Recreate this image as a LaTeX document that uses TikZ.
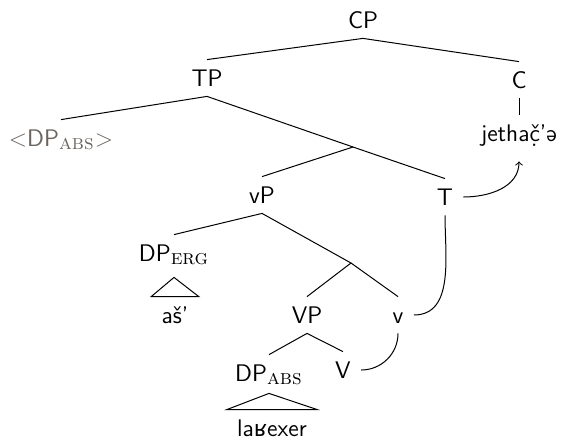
\documentclass[tikz,border=0pt]{standalone}
\usepackage{fontspec}
\newfontfamily\ipafont{DejaVu Sans}
\usepackage{xcolor}
\usepackage{tikz}
\usetikzlibrary{arrows, positioning}
\definecolor{tracegray}{RGB}{105,100,95}
\newcommand\catsub[1]{\textsubscript{\rmfamily\fontsize{10.5}{12}\selectfont\scshape #1}}

\begin{document}
\begin{tikzpicture}[
    x=0.5pt, y=0.5pt,
    cat/.style={font=\fontsize{12}{14}\selectfont\sffamily, text height=8pt, text depth=0pt, inner xsep=5pt, inner ysep=5pt},
    trace/.style={cat, text=tracegray},
    branch/.style={line width=0.5pt},
    move/.style={line width=0.5pt, out=0, in=-90},
    movearrow/.style={move, ->, >=to}
]
\useasboundingbox (0,0) rectangle (565,-439);

% =====================
% Top: CP, TP, C
% =====================
\node[cat] (CP) at (363,-20) {CP};
\node[cat] (TP) at (207,-78) {TP};
\node[cat] (C) at (519,-80) {C};
\node[trace] (trace) at (61,-138) {$<$DP\catsub{abs}$>$};
\node[cat] (jeth) at (519,-133) {jethač̣'ə};
\coordinate (Tbar) at (353,-147);

% =====================
% Middle: vP, T
% =====================
\node[cat] (vP) at (262,-195) {vP};
\node[cat] (T) at (445,-197) {T};
\node[cat] (DPerg) at (174,-253) {DP\catsub{erg}};
\coordinate (vbar) at (351,-263);
\node[cat] (ash) at (175,-315) {aš'};

% =====================
% Bottom: VP, v
% =====================
\node[cat] (VP) at (307,-315) {VP};
\node[cat] (v) at (398,-315) {v};
\node[cat] (DPabs) at (269,-373) {DP\catsub{abs}};
\node[cat] (V) at (343,-370) {V};
\node[cat] (lex) at (272,-428) {la{\ipafont\fontsize{11}{14}\selectfont ʁ}exer};

% =====================
% Branches
% =====================
\draw[branch] (CP.south) -- (TP.north);
\draw[branch] (CP.south) -- (C.north);
\draw[branch] (C.south) -- (jeth.north);
\draw[branch] (TP.south) -- (trace.north);
\draw[branch] (TP.south) -- (Tbar);
\draw[branch] (Tbar) -- (vP.north);
\draw[branch] (Tbar) -- (T.north);
\draw[branch] (vP.south) -- (DPerg.north);
\draw[branch] (vP.south) -- (vbar);
\draw[branch] (vbar) -- (VP.north);
\draw[branch] (vbar) -- (v.north);
\draw[branch] (VP.south) -- (DPabs.north);
\draw[branch] (VP.south) -- (V.north);

% roofs
\draw[branch] ([yshift=-3pt]DPerg.south) -- (ash.north west) -- (ash.north east) -- cycle;
\draw[branch] ([yshift=-1pt]DPabs.south) -- (lex.north west) -- (lex.north east) -- cycle;

% =====================
% Movement
% =====================
\draw[move] (V.east) to (v.south);
\draw[move] (v.east) to (T.south);
\draw[movearrow] (T.east) to ([yshift=-5pt]jeth.south);

\end{tikzpicture}
\end{document}
